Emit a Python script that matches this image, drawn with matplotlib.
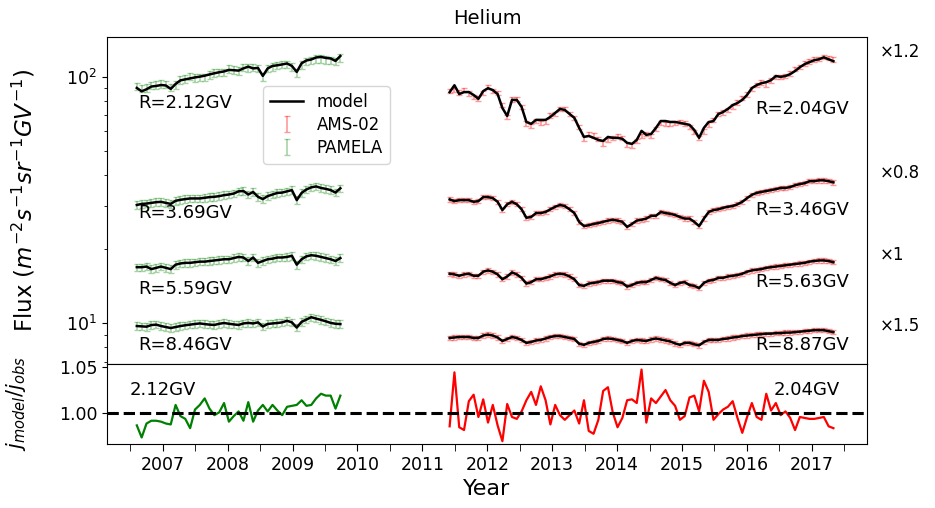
import numpy as np
import matplotlib
matplotlib.use('Agg')
import matplotlib.pyplot as plt
from matplotlib.ticker import MultipleLocator, FixedLocator, NullFormatter

OUT_FILE = 'out.png'

# Time axis: PAMELA per Carrington rotation, AMS-02 per Bartels rotation
PAMELA_START = 2006.60
AMS_START = 2011.42
CARRINGTON = 27.2753 / 365.25
BARTELS = 27.0 / 365.25

# Model flux (m^-2 s^-1 sr^-1 GV^-1), PAMELA period
pam_212 = [90.0, 87.2, 88.9, 91.2, 91.7, 92.5, 92.1, 89.2, 93.4, 96.6,
           97.5, 98.4, 99.3, 100.0, 100.9, 102.1, 103.2, 104.2, 105.0, 106.5,
           106.2, 105.8, 108.0, 109.8, 108.0, 108.5, 100.7, 108.0, 110.5, 111.2,
           112.1, 113.1, 110.5, 104.5, 113.3, 116.3, 117.4, 119.6, 120.2, 119.1,
           118.5, 115.8, 121.3]
pam_369 = [30.2, 30.5, 30.6, 30.8, 31.0, 31.1, 30.8, 30.5, 31.4, 31.7,
           31.9, 32.1, 32.1, 32.1, 32.3, 32.5, 32.6, 32.8, 33.1, 33.3,
           33.6, 34.3, 34.4, 33.3, 34.1, 32.6, 31.9, 32.8, 33.3, 33.8,
           33.9, 34.3, 34.7, 31.6, 33.8, 34.9, 35.6, 35.9, 35.4, 35.1,
           34.7, 33.9, 35.3]
pam_559 = [16.9, 16.9, 17.0, 16.6, 16.8, 17.0, 16.8, 16.6, 17.3, 17.5,
           17.6, 17.6, 17.7, 17.8, 17.8, 17.9, 18.0, 18.1, 18.2, 18.2,
           18.4, 18.6, 18.5, 17.9, 18.5, 17.6, 17.9, 18.2, 18.3, 18.5,
           18.5, 18.6, 18.8, 17.3, 18.2, 18.7, 18.9, 18.8, 18.6, 18.4,
           18.2, 17.9, 18.4]
pam_846 = [9.76, 9.73, 9.70, 9.85, 9.89, 9.76, 9.67, 9.58, 9.67, 9.76,
           9.83, 9.89, 9.95, 10.0, 9.94, 9.89, 9.86, 9.97, 10.04, 9.97,
           9.91, 9.86, 10.0, 10.05, 10.0, 10.1, 9.72, 9.95, 10.0, 10.04,
           10.1, 10.25, 10.1, 9.62, 10.15, 10.37, 10.6, 10.46, 10.34, 10.2,
           10.05, 9.97, 9.94]
# j_model / j_obs at 2.12 GV
pam_ratio = [0.987, 0.974, 0.989, 0.992, 0.992, 0.991, 0.989, 0.988, 1.009, 0.997,
             0.994, 0.984, 1.004, 1.009, 1.016, 1.005, 0.998, 1.001, 1.011, 0.991,
             0.997, 1.002, 0.992, 1.012, 0.991, 1.003, 1.009, 1.002, 1.009, 1.003,
             0.998, 1.007, 1.008, 1.009, 1.014, 1.008, 1.009, 1.016, 1.021, 1.019,
             1.019, 1.005, 1.019]

# Model flux, AMS-02 period
ams_204 = [86.5, 92.3, 85.0, 86.6, 86.6, 84.3, 81.3, 87.4, 89.8, 88.2,
           85.0, 74.6, 69.3, 80.5, 80.5, 75.4, 65.5, 64.4, 66.8, 66.8,
           66.8, 68.7, 71.3, 74.0, 73.3, 70.6, 68.1, 62.0, 57.0, 57.5,
           56.5, 55.4, 54.9, 57.0, 56.5, 56.5, 56.0, 53.9, 53.4, 55.4,
           60.3, 58.1, 58.6, 62.0, 66.1, 66.1, 65.5, 65.5, 65.0, 64.4,
           63.8, 60.8, 56.5, 62.0, 65.5, 66.1, 70.5, 71.9, 74.0, 76.7,
           78.2, 80.5, 84.3, 89.9, 92.4, 94.1, 95.0, 96.8, 100.6, 99.8,
           100.6, 102.4, 105.4, 109.2, 112.4, 114.5, 116.6, 117.6, 119.8, 117.6,
           115.5]
ams_346 = [31.8, 31.3, 31.6, 31.6, 31.6, 31.1, 31.3, 32.5, 32.5, 32.2,
           31.1, 28.8, 30.4, 31.1, 30.4, 29.0, 26.8, 27.0, 28.0, 28.0,
           28.3, 29.0, 29.7, 30.2, 29.9, 29.0, 28.0, 25.8, 24.8, 25.0,
           25.3, 25.5, 25.8, 26.1, 26.3, 26.1, 25.8, 24.6, 25.3, 26.1,
           26.3, 26.6, 27.3, 27.3, 28.3, 28.0, 27.8, 27.5, 27.0, 26.6,
           26.6, 25.8, 24.8, 26.6, 28.3, 28.8, 29.0, 29.4, 29.7, 29.9,
           30.4, 31.1, 32.2, 33.2, 33.8, 34.1, 34.4, 34.7, 35.0, 35.4,
           35.4, 35.7, 36.3, 36.7, 37.0, 37.7, 37.7, 38.0, 38.0, 37.7,
           37.3]
ams_563 = [15.9, 15.8, 15.6, 15.8, 15.9, 15.6, 15.6, 16.2, 16.4, 16.2,
           15.8, 15.1, 15.5, 16.1, 15.8, 15.3, 14.5, 14.7, 15.1, 15.1,
           15.3, 15.5, 15.8, 15.9, 15.8, 15.5, 15.1, 14.3, 14.2, 14.5,
           14.6, 14.7, 14.9, 14.9, 14.9, 14.7, 14.6, 14.1, 14.3, 14.6,
           14.7, 14.7, 15.0, 15.3, 15.1, 15.0, 14.6, 14.3, 14.6, 14.7,
           14.3, 14.2, 13.9, 14.6, 14.9, 15.0, 15.3, 15.3, 15.5, 15.6,
           15.7, 15.9, 16.2, 16.4, 16.5, 16.6, 16.8, 16.9, 17.0, 17.1,
           17.2, 17.3, 17.4, 17.5, 17.6, 17.8, 17.9, 18.0, 18.0, 17.9,
           17.7]
ams_887 = [8.73, 8.77, 8.81, 8.81, 8.81, 8.73, 8.73, 8.93, 9.01, 8.93,
           8.77, 8.49, 8.65, 8.81, 8.73, 8.57, 8.34, 8.41, 8.53, 8.57,
           8.69, 8.81, 8.89, 8.89, 8.81, 8.73, 8.65, 8.27, 8.19, 8.34,
           8.41, 8.49, 8.65, 8.69, 8.65, 8.57, 8.49, 8.34, 8.49, 8.57,
           8.53, 8.49, 8.61, 8.69, 8.61, 8.53, 8.45, 8.30, 8.19, 8.34,
           8.34, 8.23, 8.15, 8.41, 8.57, 8.57, 8.57, 8.65, 8.69, 8.77,
           8.81, 8.89, 8.93, 8.97, 9.01, 9.05, 9.09, 9.09, 9.13, 9.13,
           9.18, 9.18, 9.22, 9.26, 9.30, 9.34, 9.39, 9.39, 9.39, 9.30,
           9.22]
# j_model / j_obs at 2.04 GV
ams_ratio = [0.986, 1.044, 0.985, 0.982, 1.013, 1.020, 0.996, 1.015, 0.990, 1.009,
             0.987, 0.970, 1.010, 0.996, 0.994, 1.002, 1.014, 1.023, 1.009, 1.029,
             1.014, 0.988, 1.009, 0.998, 0.993, 0.998, 1.003, 0.989, 1.014, 0.981,
             0.978, 0.993, 1.024, 1.028, 1.001, 0.985, 0.995, 1.014, 1.015, 1.011,
             1.047, 0.990, 1.016, 1.011, 1.018, 1.025, 1.014, 1.008, 0.993, 0.997,
             1.017, 1.019, 1.002, 1.035, 1.023, 0.993, 0.999, 1.004, 1.007, 1.013,
             0.995, 0.979, 0.996, 1.011, 0.996, 0.993, 1.021, 1.003, 1.011, 0.998,
             1.002, 0.995, 0.982, 0.996, 0.995, 0.994, 0.994, 0.995, 0.996, 0.986,
             0.984]

pam_rel_err = 0.035
ams_rel_err = 0.02

pam_labels = ['R=2.12GV', 'R=3.69GV', 'R=5.59GV', 'R=8.46GV']
ams_labels = ['R=2.04GV', 'R=3.46GV', 'R=5.63GV', 'R=8.87GV']
scale_labels = [u'\u00d71.2', u'\u00d70.8', u'\u00d71', u'\u00d71.5']
year_ticks = list(range(2007, 2018))

t_pam = PAMELA_START + CARRINGTON * np.arange(len(pam_212))
t_ams = AMS_START + BARTELS * np.arange(len(ams_204))

# observed flux: lowest rigidity recovered from the ratio, others follow the model
pam_series = [np.array(pam_212) / np.array(pam_ratio), pam_369, pam_559, pam_846]
pam_models = [pam_212, pam_369, pam_559, pam_846]
ams_series = [np.array(ams_204) / np.array(ams_ratio), ams_346, ams_563, ams_887]
ams_models = [ams_204, ams_346, ams_563, ams_887]

fig = plt.figure(figsize=(9.35, 5.08), dpi=100)
ax = fig.add_axes([0.1144, 0.2835, 0.8128, 0.6437])
axr = fig.add_axes([0.1144, 0.126, 0.8128, 0.1575], sharex=ax)

for k in range(4):
    obs = np.asarray(pam_series[k])
    h_pam = ax.errorbar(t_pam, obs, yerr=obs * pam_rel_err, fmt='none',
                        ecolor='green', alpha=0.35, elinewidth=1.2, capsize=2.5,
                        zorder=1)
    obs = np.asarray(ams_series[k])
    h_ams = ax.errorbar(t_ams, obs, yerr=obs * ams_rel_err, fmt='none',
                        ecolor='red', alpha=0.4, elinewidth=1.2, capsize=2.5,
                        zorder=1)
    h_mod, = ax.plot(t_pam, pam_models[k], color='black', lw=1.8, zorder=3)
    ax.plot(t_ams, ams_models[k], color='black', lw=1.8, zorder=3)

ax.set_yscale('log')
ax.set_ylim(6.85, 144.8)
ax.set_xlim(2006.14, 2017.85)
ax.set_title('Helium', fontsize=14, pad=9)
ax.set_ylabel(r'Flux ($m^{-2}s^{-1}sr^{-1}GV^{-1}$)', fontsize=16.5)
ax.yaxis.set_label_coords(-0.091, 0.5)
ax.tick_params(axis='y', labelsize=12.5)
ax.tick_params(axis='x', which='both', length=0, labelbottom=False)

leg = ax.legend([h_mod, h_ams, h_pam], ['model', 'AMS-02', 'PAMELA'],
                loc='upper left', bbox_to_anchor=(0.195, 0.875),
                fontsize=12, handlelength=2.0, borderpad=0.4, labelspacing=0.3)

# rigidity tags
pam_tag_y = [0.798, 0.462, 0.229, 0.058]
ams_tag_y = [0.780, 0.471, 0.251, 0.058]
scale_y = [0.954, 0.584, 0.333, 0.116]
for k in range(4):
    ax.text(0.041, pam_tag_y[k], pam_labels[k], transform=ax.transAxes,
            fontsize=13, ha='left', va='center')
    ax.text(0.976, ams_tag_y[k], ams_labels[k], transform=ax.transAxes,
            fontsize=13, ha='right', va='center')
    ax.text(1.017, scale_y[k], scale_labels[k], transform=ax.transAxes,
            fontsize=12, ha='left', va='center')

# ratio panel
axr.plot(t_pam, pam_ratio, color='green', lw=1.6)
axr.plot(t_ams, ams_ratio, color='red', lw=1.6)
axr.axhline(1.0, color='black', lw=2.2, ls='--')
axr.set_ylim(0.967, 1.053)
axr.yaxis.set_major_locator(FixedLocator([1.0, 1.05]))
axr.yaxis.set_major_formatter(plt.FormatStrFormatter('%.2f'))
axr.xaxis.set_major_locator(FixedLocator(year_ticks))
axr.xaxis.set_minor_locator(MultipleLocator(0.5))
axr.xaxis.set_minor_formatter(NullFormatter())
axr.set_xticklabels([str(y) for y in year_ticks])
axr.tick_params(axis='x', which='both', length=5, labelsize=12.5)
axr.tick_params(axis='y', labelsize=12.5)
axr.set_ylabel(r'$j_{model}/j_{obs}$', fontsize=15)
axr.yaxis.set_label_coords(-0.104, 0.5)
axr.set_xlabel('Year', fontsize=16)
axr.text(0.030, 0.675, '2.12GV', transform=axr.transAxes, fontsize=13,
         ha='left', va='center')
axr.text(0.964, 0.675, '2.04GV', transform=axr.transAxes, fontsize=13,
         ha='right', va='center')

fig.savefig(OUT_FILE, dpi=100)
plt.close(fig)
